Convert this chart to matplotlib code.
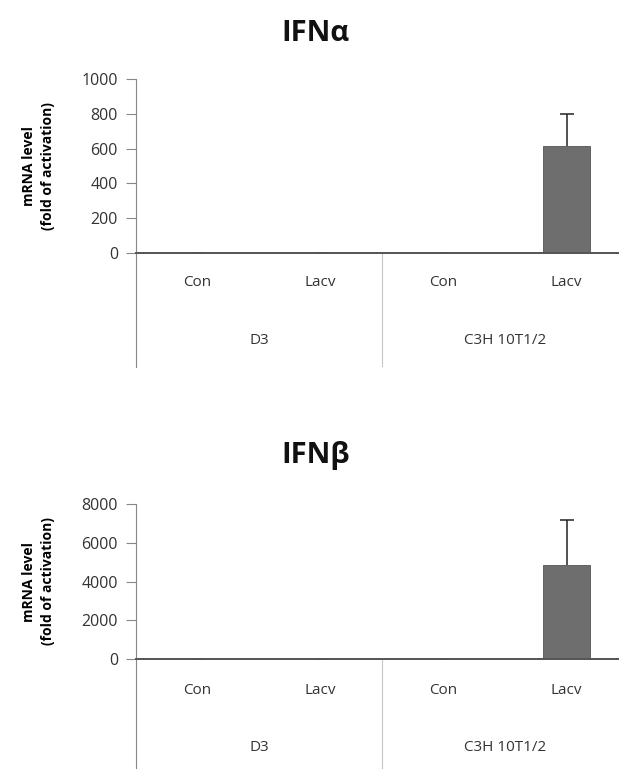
import matplotlib
matplotlib.use('Agg')
import matplotlib.pyplot as plt
from matplotlib.transforms import blended_transform_factory
import numpy as np

plt.rcParams['font.family'] = ['Open Sans', 'DejaVu Sans']

# data
conditions = ['Con', 'Lacv', 'Con', 'Lacv']
cell_lines = ['D3', 'C3H 10T1/2']
ifna_mean = [1, 2, 1, 615]
ifna_err = [0, 0, 0, 185]
ifnb_mean = [1, 3, 1, 4850]
ifnb_err = [0, 0, 0, 2350]

panels = [
    # title, means, errors, yticks, axes rect, tick pad, group label y, line bottom, title y
    ('IFNα', ifna_mean, ifna_err, [0, 200, 400, 600, 800, 1000],
     [0.2197, 0.671, 0.795, 0.2263], 16, -0.50, -0.655, 0.957),
    ('IFNβ', ifnb_mean, ifnb_err, [0, 2000, 4000, 6000, 8000],
     [0.2197, 0.143, 0.795, 0.2016], 17, -0.568, -0.72, 0.408),
]

fig = plt.figure(figsize=(6.19, 7.69), dpi=100)

for title, mean, err, yticks, rect, pad, grp_y, line_y, title_y in panels:
    ax = fig.add_axes(rect)
    x = np.arange(len(conditions))
    bars = ax.bar(x, mean, width=0.38, color='#6e6e6e', edgecolor='#555555', linewidth=0.6,
                  yerr=[np.zeros(len(err)), err],
                  error_kw=dict(ecolor='#222222', elinewidth=1.1, capsize=5, capthick=1.1))
    # only the upper cap is drawn in the original
    caplines = bars.errorbar.lines[1]
    caplines[0].set_visible(False)

    ax.set_xlim(-0.5, 3.5)
    ax.set_ylim(0, yticks[-1])
    ax.set_yticks(yticks)
    ax.set_yticklabels([str(t) for t in yticks], fontsize=11.5, color='#333333')
    ax.set_xticks(x)
    ax.set_xticklabels(conditions, fontsize=11, color='#333333')
    ax.tick_params(axis='x', length=0, pad=pad)
    ax.tick_params(axis='y', length=7, width=0.8, color='#888888', pad=6)

    for s in ['top', 'right', 'left']:
        ax.spines[s].set_visible(False)
    ax.spines['bottom'].set_color('#555555')
    ax.spines['bottom'].set_linewidth(1.4)
    ax.spines['bottom'].set_linestyle((0, (1.5, 0.6)))

    trans = blended_transform_factory(ax.transData, ax.transAxes)
    # y-axis line running down through the category area
    ax.plot([-0.5, -0.5], [1, line_y], transform=trans, color='#888888', lw=0.8,
            clip_on=False)
    ax.plot([1.5, 1.5], [0, line_y], transform=trans, color='#999999', lw=0.8,
            linestyle=(0, (1, 0.8)), clip_on=False)
    for gx, name in zip([0.5, 2.5], cell_lines):
        ax.text(gx, grp_y, name, transform=trans, ha='center', va='center',
                fontsize=11, color='#333333')

    ax.set_ylabel('mRNA level\n(fold of activation)', fontsize=10, fontweight='bold',
                  linespacing=1.45)
    ax.yaxis.set_label_coords(-0.165, 0.5)

    fig.text(0.51, title_y, title, ha='center', va='center', fontsize=21,
             fontweight='bold', color='#111111')

fig.savefig('out.png', dpi=100)
